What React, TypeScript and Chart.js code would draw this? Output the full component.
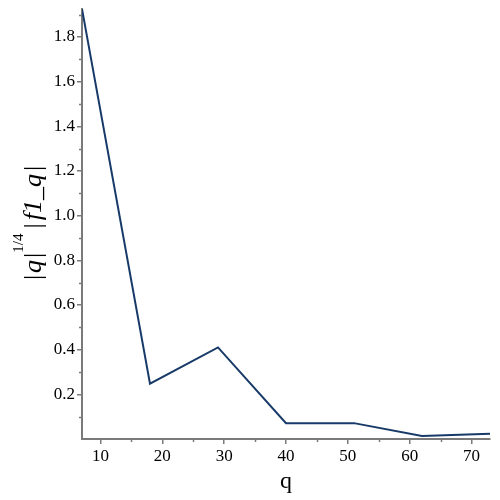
import React, { useEffect, useRef } from "react";
import { Chart, registerables } from "chart.js";

Chart.register(...registerables);

const qValues = [7, 18, 29, 40, 51, 62, 73];
const f1Values = [1.925, 0.248, 0.41, 0.071, 0.071, 0.013, 0.023];
const xTickValues = [10, 20, 30, 40, 50, 60, 70];
const xMinorTicks = [15, 25, 35, 45, 55, 65];
const yTickValues = [0.2, 0.4, 0.6, 0.8, 1.0, 1.2, 1.4, 1.6, 1.8];
const yMinorTicks = [0.1, 0.3, 0.5, 0.7, 0.9, 1.1, 1.3, 1.5, 1.7, 1.9];

const SERIF = "Liberation Serif";
const AXIS = "#7a7a7a";

const decorPlugin = {
  id: "decor",
  afterDraw(chart: any) {
    const ctx = chart.ctx as CanvasRenderingContext2D;
    const xs = chart.scales.x;
    const ys = chart.scales.y;
    const area = chart.chartArea;
    ctx.save();
    ctx.strokeStyle = AXIS;
    ctx.lineWidth = 1.5;
    for (const v of xMinorTicks) {
      const px = Math.round(xs.getPixelForValue(v)) + 0.5;
      ctx.beginPath();
      ctx.moveTo(px, area.bottom);
      ctx.lineTo(px, area.bottom + 3);
      ctx.stroke();
    }
    for (const v of yMinorTicks) {
      if (v > ys.max) continue;
      const py = Math.round(ys.getPixelForValue(v)) + 0.5;
      ctx.beginPath();
      ctx.moveTo(area.left, py);
      ctx.lineTo(area.left - 3, py);
      ctx.stroke();
    }
    ctx.restore();

    // x title
    ctx.save();
    ctx.fillStyle = "#000";
    ctx.font = `24px ${SERIF}`;
    ctx.textAlign = "center";
    ctx.textBaseline = "alphabetic";
    ctx.fillText("q", (area.left + area.right) / 2, 488);
    ctx.restore();

    // y title: |q|^(1/4) |f1_q|
    const mainFont = `26px ${SERIF}`;
    const italFont = `italic 26px ${SERIF}`;
    const supFont = `15px ${SERIF}`;
    const pieces: { t: string; f: string; sup?: boolean; gap?: number }[] = [
      { t: "|", f: mainFont },
      { t: "q", f: italFont, gap: 2 },
      { t: "|", f: mainFont, gap: 2 },
      { t: "1/4", f: supFont, sup: true, gap: 0 },
      { t: "|", f: mainFont, gap: 5 },
      { t: "f1_q", f: italFont, gap: 3 },
      { t: "|", f: mainFont, gap: 3 },
    ];
    let total = 0;
    const widths: number[] = [];
    for (const p of pieces) {
      ctx.font = p.f;
      const w = ctx.measureText(p.t).width;
      widths.push(w);
      total += w + (p.gap || 0);
    }
    const centerY = 223;
    ctx.save();
    ctx.translate(41, centerY + total / 2);
    ctx.rotate(-Math.PI / 2);
    ctx.fillStyle = "#000";
    ctx.textAlign = "left";
    ctx.textBaseline = "alphabetic";
    let x = 0;
    pieces.forEach((p, i) => {
      x += p.gap || 0;
      ctx.font = p.f;
      ctx.fillText(p.t, x, p.sup ? -18 : 0);
      x += widths[i];
    });
    ctx.restore();
  },
};

export default function App() {
  const ref = useRef<HTMLCanvasElement | null>(null);
  useEffect(() => {
    document.body.style.margin = "0";
    if (!ref.current) return;
    const chart = new Chart(ref.current, {
      type: "line",
      data: {
        datasets: [
          {
            data: qValues.map((q, i) => ({ x: q, y: f1Values[i] })),
            borderColor: "#173a68",
            borderWidth: 2,
            pointRadius: 0,
            tension: 0,
            fill: false,
          },
        ],
      },
      options: {
        animation: false,
        responsive: false,
        maintainAspectRatio: false,
        layout: { padding: { top: 9, right: 10, left: 0, bottom: 0 } },
        plugins: {
          legend: { display: false },
          tooltip: { enabled: false },
          title: { display: false },
        },
        scales: {
          x: {
            type: "linear",
            min: 7,
            max: 73,
            afterBuildTicks: (s: any) => {
              s.ticks = xTickValues.map((v) => ({ value: v }));
            },
            afterFit: (s: any) => {
              s.height = 61;
              s.paddingLeft = 0;
              s.paddingRight = 0;
            },
            border: { color: AXIS, width: 2 },
            grid: {
              drawOnChartArea: false,
              drawTicks: true,
              tickLength: 5,
              color: AXIS,
              lineWidth: 1.5,
            },
            ticks: {
              color: "#000",
              font: { family: SERIF, size: 17 },
              padding: 2,
              maxRotation: 0,
              callback: (v: any) => String(v),
            },
          },
          y: {
            type: "linear",
            min: 0,
            max: 1.925,
            afterBuildTicks: (s: any) => {
              s.ticks = yTickValues.map((v) => ({ value: v }));
            },
            afterFit: (s: any) => {
              s.width = 82;
              s.paddingTop = 0;
              s.paddingBottom = 0;
            },
            border: { color: AXIS, width: 2 },
            grid: {
              drawOnChartArea: false,
              drawTicks: true,
              tickLength: 5,
              color: AXIS,
              lineWidth: 1.5,
            },
            ticks: {
              color: "#000",
              font: { family: SERIF, size: 17 },
              padding: 2,
              callback: (v: any) => Number(v).toFixed(1),
            },
          },
        },
      },
      plugins: [decorPlugin],
    });
    return () => {
      chart.destroy();
    };
  }, []);
  return (
    <div style={{ position: "absolute", left: 0, top: 0, width: 500, height: 500 }}>
      <canvas ref={ref} width={500} height={500} style={{ width: 500, height: 500 }} />
    </div>
  );
}
